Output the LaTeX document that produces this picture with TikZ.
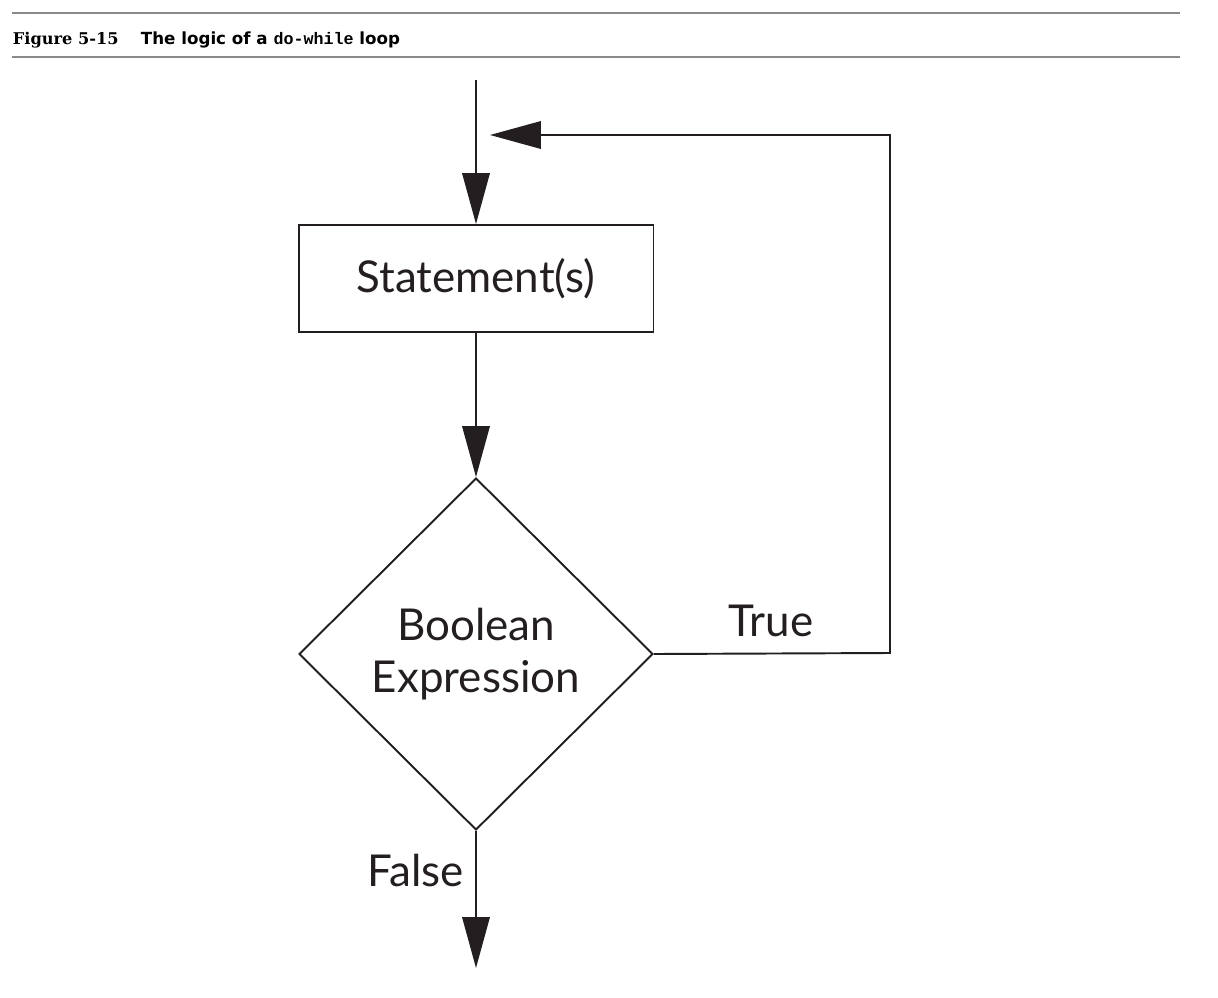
\documentclass[tikz,border=0pt]{standalone}
\usepackage{fontspec}
\setmainfont{Lato}
\newfontfamily\capserif{DejaVu Serif}
\newfontfamily\capsans{DejaVu Sans}
\newfontfamily\capmono{Liberation Mono}
\usetikzlibrary{shapes.geometric,arrows.meta}
\definecolor{ink}{HTML}{231F20}
\definecolor{rulegray}{HTML}{8A8A8A}
\begin{document}
\begin{tikzpicture}[x=0.02cm, y=-0.02cm,
    line width=1.1pt, draw=ink,
    flow/.style={draw=ink, -{Triangle[length=1.02cm, width=0.55cm]}},
    stepbox/.style={draw=ink, rectangle, minimum width=7.1cm, minimum height=2.14cm,
      font=\fontsize{25}{30}\selectfont, text=ink},
    decision/.style={draw=ink, diamond, aspect=1, minimum width=7.08cm, minimum height=7.04cm,
      inner sep=0pt, font=\fontsize{25}{30}\selectfont, text=ink, align=center},
    tag/.style={font=\fontsize{25}{30}\selectfont, text=ink},
    captext/.style={anchor=base west, inner sep=0pt, font=\fontsize{9.2}{11}\selectfont}]
  \useasboundingbox (0,0) rectangle (1218,998);
  % caption and rules
  \draw[rulegray, line width=1.1pt] (12,13) -- (1180,13);
  \draw[rulegray, line width=1.1pt] (12,57) -- (1180,57);
  \node[captext] (figno) at (12,44) {\capserif\bfseries Figure 5-15};
  \node[captext, font=\fontsize{9.5}{11}\selectfont] (figtitle) at (140,44)
    {\capsans\bfseries The logic of a {\capmono\bfseries do-while} loop};
  % flowchart
  \node[stepbox] (stmt) at (476,278.5) {Statement(s)};
  \node[decision] (cond) at (476,654) {Boolean\\Expression};
  \coordinate (start) at (476,80);
  \coordinate (turn) at (890,653);
  \coordinate (back) at (490,135);
  \coordinate (exit) at (476,968);
  \draw[flow] (start) -- (stmt);
  \draw[flow] (stmt) -- (cond);
  \draw[flow] (cond.east) -- (turn) |- (back);
  \draw[flow] (cond) -- (exit);
  % labels
  \node[tag, anchor=base] (truelbl) at (771,636) {True};
  \node[tag, anchor=base] (falselbl) at (416,886) {False};
\end{tikzpicture}
\end{document}
